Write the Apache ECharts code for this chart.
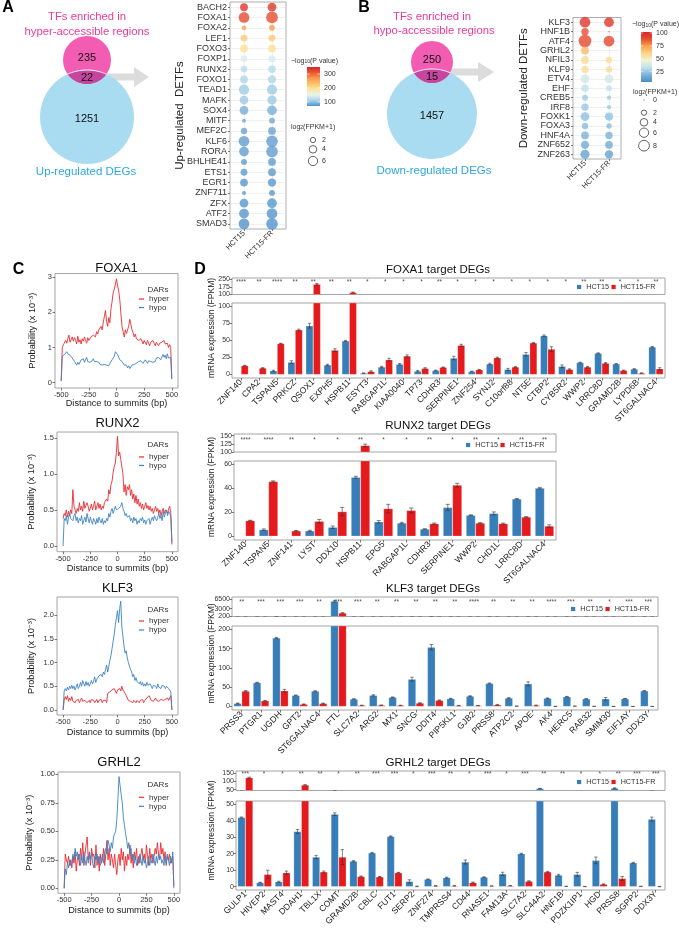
<!DOCTYPE html>
<html><head><meta charset="utf-8">
<script src="https://cdn.jsdelivr.net/npm/echarts@6/dist/echarts.min.js"></script>
<style>html,body{margin:0;padding:0;background:#fff}#c{width:679px;height:928px}</style>
</head><body><div id="c"></div>
<script>
// ===================== DATA =====================
const cellLines = ['HCT15', 'HCT15-FR'];

// Panel A / B venn counts: [TF only, overlap, DEG only]
const vennUpCounts = [235, 22, 1251];
const vennDownCounts = [250, 15, 1457];

// Panel A dot plot
const upTFs = ['BACH2','FOXA1','FOXA2','LEF1','FOXO3','FOXP1','RUNX2','FOXO1','TEAD1','MAFK','SOX4','MITF','MEF2C','KLF6','RORA','BHLHE41','ETS1','EGR1','ZNF711','ZFX','ATF2','SMAD3'];
const upPval = [335,318,262,222,195,140,120,114,106,104,88,84,82,78,78,77,76,75,75,74,73,72];
const upLogFpkmHCT15 = [4.2,8.0,1.6,3.2,4.2,3.2,3.2,4.2,7.2,5.3,5.3,1.1,2.8,8.0,6.6,2.4,3.2,4.2,1.1,5.3,6.6,8.0];
const upLogFpkmFR =    [5.3,9.5,2.4,3.2,4.2,3.2,4.2,4.8,7.2,5.9,6.6,2.4,4.2,9.5,9.5,4.2,4.2,4.8,2.4,6.6,8.0,9.5];
const upPvalTicks = [100, 200, 300];
const upSizeTicks = [2, 4, 6];

// Panel B dot plot
const downTFs = ['KLF3','HNF1B','ATF4','GRHL2','NFIL3','KLF9','ETV4','EHF','CREB5','IRF8','FOXK1','FOXA3','HNF4A','ZNF652','ZNF263'];
const downPval = [96,88,90,68,58,57,38,33,26,25,23,22,19,16,13];
const downLogFpkmHCT15 = [8.0,3.7,11.1,4.2,4.2,3.7,5.3,3.7,2.4,3.7,5.3,2.8,4.2,4.75,5.9];
const downLogFpkmFR =    [6.6,0.15,8.0,0,2.8,2.8,5.3,2.4,1.3,1.3,4.75,2.0,3.7,4.2,4.75];
const downPvalTicks = [25, 50, 75, 100];
const downSizeTicks = [0, 2, 4, 6, 8];

// Panel C: distance to summits (bp) and probabilities (x 1e-3)
const summitDistance = [-500,-490,-480,-470,-460,-450,-440,-430,-420,-410,-400,-390,-380,-370,-360,-350,-340,-330,-320,-310,-300,-290,-280,-270,-260,-250,-240,-230,-220,-210,-200,-190,-180,-170,-160,-150,-140,-130,-120,-110,-100,-90,-80,-70,-60,-50,-40,-30,-20,-10,0,10,20,30,40,50,60,70,80,90,100,110,120,130,140,150,160,170,180,190,200,210,220,230,240,250,260,270,280,290,300,310,320,330,340,350,360,370,380,390,400,410,420,430,440,450,460,470,480,490,500];
const summitTicks = [-500, -250, 0, 250, 500];

const foxa1Hyper = [0.05,1.00,1.08,1.05,1.20,1.12,1.25,1.35,1.15,1.22, 1.30,1.18,1.28,1.20,1.10,1.32,1.15,1.22,1.10,1.25, 1.18,1.30,1.22,1.12,1.28,1.20,1.15,1.30,1.25,1.35, 1.40,1.30,1.45,1.38,1.50,1.45,1.60,1.50,1.70,1.65, 2.05,1.75,1.60,1.85,1.70,2.10,2.30,2.55,2.65,2.70, 2.95,2.75,2.60,2.35,1.95,1.60,1.45,1.30,1.50,1.40, 1.35,1.60,1.80,1.65,1.50,1.42,1.30,1.38,1.25,1.30, 1.20,1.15,1.25,1.18,1.10,1.20,1.15,1.08,1.20,1.12, 1.05,1.15,1.10,1.20,1.12,1.05,1.15,1.10,1.05,1.12, 1.08,1.15,1.10,1.20,1.10,1.05,1.12,1.00,1.08,1.00, 0.12];
const foxa1Hypo = [0.05,0.75,0.72,0.80,0.75,0.88,0.82,0.85,0.78,0.80, 0.70,0.72,0.60,0.55,0.50,0.58,0.52,0.55,0.65,0.60, 0.68,0.58,0.62,0.72,0.60,0.65,0.58,0.55,0.62,0.68, 0.60,0.56,0.60,0.55,0.58,0.52,0.55,0.50,0.53,0.52, 0.55,0.50,0.52,0.48,0.55,0.60,0.65,0.70,0.75,0.88, 0.92,0.80,0.72,0.65,0.62,0.60,0.55,0.50,0.45,0.50, 0.42,0.48,0.40,0.45,0.50,0.45,0.52,0.50,0.55,0.50, 0.60,0.55,0.62,0.58,0.55,0.60,0.65,0.60,0.55,0.62, 0.58,0.60,0.62,0.58,0.55,0.60,0.70,0.65,0.72,0.68, 0.65,0.70,0.80,0.72,0.78,0.68,0.82,0.70,0.75,0.72, 0.10];
const runx2Hyper = [0.38,0.45,0.42,0.50,0.40,0.48,0.42,0.50,0.45,0.78, 0.55,0.50,0.45,0.52,0.48,0.60,0.50,0.55,0.48,0.62, 0.52,0.50,0.60,0.55,0.48,0.52,0.58,0.50,0.55,0.62, 0.50,0.55,0.60,0.52,0.58,0.50,0.55,0.52,0.60,0.58, 0.65,0.62,0.78,0.72,0.85,0.90,1.02,1.10,1.15,1.30, 1.52,1.25,1.30,1.20,1.10,1.00,0.75,0.85,0.70,0.82, 0.78,0.85,0.70,0.78,0.65,0.72,0.60,0.70,0.58,0.65, 0.55,0.60,0.52,0.58,0.50,0.55,0.60,0.52,0.56,0.50, 0.55,0.48,0.52,0.45,0.50,0.55,0.48,0.52,0.45,0.50, 0.42,0.48,0.52,0.45,0.50,0.48,0.45,0.52,0.55,0.45, 0.02];
const runx2Hypo = [0.00,0.38,0.35,0.42,0.30,0.40,0.45,0.38,0.40,0.35, 0.42,0.45,0.35,0.40,0.32,0.38,0.35,0.42,0.30,0.35, 0.40,0.33,0.45,0.38,0.32,0.40,0.35,0.30,0.38,0.35, 0.30,0.38,0.32,0.40,0.35,0.32,0.38,0.30,0.35,0.32, 0.38,0.35,0.45,0.40,0.48,0.52,0.45,0.50,0.55,0.50, 0.48,0.52,0.50,0.55,0.60,0.52,0.48,0.42,0.45,0.40, 0.38,0.42,0.35,0.38,0.32,0.40,0.35,0.38,0.30,0.35, 0.32,0.38,0.35,0.40,0.32,0.36,0.30,0.35,0.33,0.38, 0.30,0.36,0.40,0.35,0.42,0.38,0.35,0.40,0.45,0.38, 0.42,0.35,0.48,0.40,0.45,0.50,0.42,0.48,0.45,0.40, 0.05];
const klf3Hyper = [0.00,0.20,0.28,0.22,0.30,0.18,0.25,0.20,0.28,0.18, 0.22,0.15,0.20,0.18,0.22,0.15,0.20,0.25,0.18,0.15, 0.20,0.22,0.15,0.18,0.20,0.15,0.22,0.18,0.20,0.15, 0.18,0.22,0.15,0.20,0.18,0.22,0.15,0.20,0.18,0.20, 0.15,0.35,0.32,0.38,0.35,0.42,0.38,0.45,0.40,0.35, 0.42,0.38,0.45,0.40,0.50,0.42,0.45,0.35,0.30,0.25, 0.20,0.22,0.18,0.20,0.15,0.20,0.18,0.15,0.20,0.18, 0.15,0.20,0.18,0.22,0.15,0.20,0.18,0.25,0.22,0.30, 0.25,0.20,0.22,0.18,0.20,0.25,0.20,0.22,0.18,0.20, 0.22,0.25,0.20,0.18,0.22,0.20,0.25,0.20,0.22,0.30, 0.00];
const klf3Hypo = [0.00,0.40,0.45,0.40,0.48,0.42,0.50,0.45,0.52,0.45, 0.50,0.42,0.48,0.55,0.45,0.50,0.58,0.50,0.62,0.55, 0.50,0.60,0.52,0.58,0.50,0.55,0.62,0.55,0.60,0.70, 0.58,0.65,0.62,0.72,0.68,0.75,0.70,0.80,0.75,0.85, 0.95,0.80,0.92,1.05,1.15,1.30,1.45,1.60,1.80,1.95, 2.10,1.85,2.15,2.30,1.75,1.55,1.35,1.20,1.25,1.10, 1.00,0.92,0.85,0.80,0.70,0.75,0.62,0.68,0.60,0.62, 0.55,0.60,0.52,0.58,0.50,0.55,0.50,0.58,0.52,0.48, 0.55,0.50,0.45,0.52,0.48,0.50,0.45,0.55,0.48,0.50, 0.45,0.52,0.48,0.50,0.45,0.50,0.48,0.45,0.42,0.38, 0.00];
const grhl2Hyper = [0.00,0.30,0.25,0.22,0.28,0.20,0.25,0.18,0.28,0.22, 0.32,0.15,0.25,0.30,0.20,0.35,0.25,0.40,0.20,0.30, 0.38,0.45,0.25,0.32,0.20,0.35,0.28,0.30,0.18,0.38, 0.20,0.28,0.15,0.30,0.22,0.25,0.35,0.20,0.30,0.42, 0.25,0.35,0.20,0.30,0.25,0.18,0.30,0.20,0.12,0.25, 0.30,0.20,0.35,0.25,0.32,0.15,0.28,0.20,0.30,0.25, 0.38,0.22,0.30,0.18,0.32,0.25,0.35,0.20,0.28,0.22, 0.30,0.35,0.25,0.30,0.22,0.38,0.28,0.20,0.35,0.25, 0.30,0.22,0.28,0.35,0.30,0.40,0.30,0.25,0.40,0.30, 0.35,0.25,0.32,0.20,0.28,0.25,0.30,0.22,0.25,0.28, 0.02];
const grhl2Hypo = [0.00,0.17,0.12,0.22,0.18,0.25,0.20,0.22,0.30,0.25, 0.35,0.28,0.32,0.25,0.30,0.20,0.28,0.22,0.32,0.25, 0.20,0.28,0.22,0.30,0.25,0.32,0.22,0.18,0.28,0.25, 0.30,0.22,0.28,0.20,0.25,0.30,0.22,0.32,0.35,0.30, 0.42,0.38,0.32,0.40,0.35,0.45,0.48,0.50,0.60,0.78, 0.98,0.90,0.82,0.75,0.62,0.55,0.48,0.42,0.35,0.40, 0.30,0.35,0.25,0.30,0.22,0.28,0.20,0.25,0.22,0.30, 0.25,0.20,0.28,0.22,0.25,0.18,0.22,0.28,0.20,0.25, 0.22,0.30,0.25,0.20,0.28,0.22,0.30,0.25,0.28,0.22, 0.25,0.20,0.28,0.22,0.30,0.25,0.20,0.28,0.22,0.32, 0.00];
const foxa1ProbTicks = [0, 1, 2, 3];
const runx2ProbTicks = [0, 0.5, 1.0, 1.5];
const klf3ProbTicks = [0, 0.5, 1.0, 1.5, 2.0];
const grhl2ProbTicks = [0, 0.25, 0.5, 0.75, 1.0];

// Panel D: FPKM bars
const foxa1Genes = ['ZNF140','CPA2','TSPAN5','PRKCZ','QSOX1','EXPH5','HSPB11','ESYT3','RABGAP1L','KIAA0040','TP73','CDHR3','SERPINE1','ZNF254','SYNJ2','C10orf88','NT5E','CTBP2','CYB5R2','WWP2','LRRC8D','GRAMD2B','LYPD6B','ST6GALNAC4'];
const foxa1HCT15 = [0.2,0.1,5.5,18,71,14,49,2,11,15,5,6,24,4.5,15.5,7.5,29.5,56.5,12,17.5,31,15.5,8,40];
const foxa1FR = [13,9.5,45,65,200,35.5,120,4.5,21.5,27,9,10.5,42.5,7,24.5,11,46,37,7.5,11,16.5,6,2,8.5];
const foxa1HCT15Err = [0,0,0.8,2,3.5,1,0.8,0.3,1,1,1,0.5,2.5,0.5,1,1.5,2.5,1,2,0.5,0.5,0.5,0.5,0.8];
const foxa1FRErr = [0.5,0.5,0.5,1,8,2,4,1,2,1.5,1,0.5,1.5,0.5,0.8,0.8,0.8,3.5,0.8,0.8,0.8,0.5,0.5,1.5];
const foxa1Stars = ['****','**','****','**','**','**','**','*','*','*','*','**','*','*','*','*','*','*','*','**','**','*','*','**'];
const foxa1StripTicks = [100, 175, 250];
const foxa1MainTicks = [0, 25, 50, 75, 100];

const runx2Genes = ['ZNF140','TSPAN5','ZNF141','LYST','DDX10','HSPB11','EPG5','RABGAP1L','CDHR3','SERPINE1','WWP2','CHD1L','LRRC8D','ST6GALNAC4'];
const runx2HCT15 = [0.2,5.5,0.2,4.5,7.5,49,12,11,6,24,17.5,19,31,40];
const runx2FR = [13,45.5,4.5,12.5,20.5,120,23,21.5,10.5,42.5,11,10.5,16,8.5];
const runx2HCT15Err = [0,0.6,0,0.5,1,0.8,1,0.6,0.3,2.5,0.3,1.2,0.3,0.6];
const runx2FRErr = [0.3,0.5,0.3,1.5,3.5,4,3.5,2,0.5,1.5,0.3,0.5,0.3,1];
const runx2Stars = ['****','****','**','*','*','**','*','*','**','*','**','*','**','**'];
const runx2StripTicks = [100, 125, 150];
const runx2MainTicks = [0, 20, 40, 60];

const klf3Genes = ['PRSS3','PTGR1','UGDH','GPT2','ST6GALNAC4','FTL','SLC7A2','ARG2','MX1','SNCG','DDIT4','PIP5KL1','GJB2','PRSS8','ATP2C2','APOE','AK4','HERC5','RAB32','SMIM30','EIF1AY','DDX3Y'];
const klf3HCT15 = [8,62,178,29,40,5700,19.5,29,24,71,154,20.5,27,60,22,59,21.5,25.5,20,20,20.5,40.5];
const klf3FR = [40,15,41,6,8,1450,3,3.5,3,9,16,2.5,2.5,4.5,1,3,0.5,1,0.5,0.3,0.2,0.3];
const klf3HCT15Err = [1,1,1.5,0.8,0.8,300,0.8,1.5,0.8,5,7,0.8,0.8,1,0.8,5,0.5,0.8,0.5,3.5,0.5,1];
const klf3FRErr = [1.5,1,3.5,0.8,1,100,0.5,0.5,0.5,1,1,0.5,0.5,1,0.3,0.8,0.2,0.3,0.2,0.2,0.2,0.2];
const klf3Stars = ['**','***','***','***','**','***','***','**','**','**','**','**','****','**','**','**','****','***','**','*','***','***'];
const klf3StripTicks = [200, 3000, 6500];
const klf3MainTicks = [0, 50, 100, 150, 200];

const grhl2Genes = ['GULP1','HIVEP2','MAST4','DDAH1','TBL1X','COMT','GRAMD2B','CBLC','FUT1','SERP2','ZNF274','TMPRSS4','CD44','RNASE1','FAM13A','SLC7A2','SLC44A2','HNF1B','PDZK1IP1','HGD','PRSS8','SGPP2','DDX3Y'];
const grhl2HCT15 = [42,2.5,3,33.5,18,44,15.5,20.5,30.5,3.2,4.5,5.5,15,5.8,7.8,20,57,7,7.5,16,59,14.5,41];
const grhl2FR = [122,7.5,8.5,78,9,18,6.2,6,8.5,0.2,0.5,0.5,2.5,0.4,0.6,3.3,9,0.2,0.1,1.5,5,0.2,0.1];
const grhl2HCT15Err = [0.3,0.2,0.3,1.2,1,0.8,0.3,0.3,0.3,1,0.2,0.3,1.2,0.2,1,0.3,1,0.5,1.2,2,1.5,0.3,1.2];
const grhl2FRErr = [3,2.5,1,2,0.5,4.5,0.3,0.2,0.2,0.2,0.2,0.2,0.3,0.1,0.1,0.3,0.3,0.1,0.1,0.2,1.2,0.1,0.1];
const grhl2Stars = ['***','*','*','**','**','*','**','***','***','*','***','**','*','***','*','***','**','**','*','*','**','***','***'];
const grhl2StripTicks = [50, 100, 150];
const grhl2MainTicks = [0, 10, 20, 30, 40, 50];

// ===================== STYLE / LAYOUT =====================
const FONT = '"Liberation Sans", Arial, Helvetica, sans-serif';
const TXT = '#333333';
const HCT_BLUE = '#377eb8', FR_RED = '#e41a1c';
const HYPER_RED = '#eb2a2f', HYPO_BLUE = '#3c82c3';
const BORDER = '#9a9a9a';
const SIZE_K = 3.8;
const BAR_GAP = 0.18;
const upStops = ['#4f91c8','#a9d3e8','#e8f3ee','#fde3a0','#fdc268','#f8984d','#ea5532','#d7262a'];
const downStops = ['#4a8cc6','#7bb3da','#c0e0ee','#f3f2d8','#fdd585','#f9a452','#e84e30','#d7262a'];

const grid = [], xAxis = [], yAxis = [], series = [], legend = [], graphic = [], visualMap = [];
const noLine = {show:false, onZero:false};

function T(x, y, text, o) {
  o = o || {};
  const al = o.align || 'center', va = o.va || 'middle';
  return {type:'text', x:x, y:y, rotation:o.rot || 0, silent:true, z:o.z || 10,
    style:Object.assign({text:text, fontSize:o.size || 9, fontFamily:FONT, fontWeight:o.weight || 'normal',
      fill:o.color || TXT, align:al, verticalAlign:va, textAlign:al, textVerticalAlign:va}, o.style || {})};
}
function addGrid(g) {
  grid.push(Object.assign({show:true, borderColor:BORDER, borderWidth:0.9, backgroundColor:'transparent', containLabel:false, outerBoundsMode:'none'}, g));
  return grid.length - 1;
}
const tickStyle = {color:'#444', width:0.7};

// ---------- Venn ----------
function arcPts(cx, cy, r, a0, a1, n) {
  const pts = [];
  for (let k = 0; k <= n; k++) {
    const t = a0 + (a1 - a0) * k / n;
    pts.push([cx + r * Math.cos(t), cy + r * Math.sin(t)]);
  }
  return pts;
}
function addVenn(V, counts, line1, line2, bottomLabel) {
  graphic.push({type:'polygon', silent:true, z:1, shape:{points:[[V.ax0,V.ay-3.5],[V.ax1,V.ay-3.5],[V.ax1,V.ay-10],[V.ax2,V.ay],[V.ax1,V.ay+10],[V.ax1,V.ay+3.5],[V.ax0,V.ay+3.5]]}, style:{fill:'#dcdcdc'}});
  graphic.push({type:'circle', silent:true, z:2, shape:{cx:V.cx, cy:V.by, r:V.br}, style:{fill:'#a9dcf0'}});
  graphic.push({type:'circle', silent:true, z:3, shape:{cx:V.cx, cy:V.py, r:V.pr}, style:{fill:'#f25db3'}});
  const d = V.by - V.py;
  const a = (d*d + V.pr*V.pr - V.br*V.br) / (2*d);
  const h = Math.sqrt(V.pr*V.pr - a*a);
  const alpha = Math.atan2(a, h);
  const beta = Math.atan2(d - a, h);
  const pinkArc = arcPts(V.cx, V.py, V.pr, Math.PI - alpha, alpha, 40);
  const blueArc = arcPts(V.cx, V.by, V.br, -beta, -Math.PI + beta, 40);
  graphic.push({type:'polygon', silent:true, z:4, shape:{points:pinkArc.concat(blueArc)}, style:{fill:'#c6459e'}});
  graphic.push({type:'polyline', silent:true, z:5, shape:{points:blueArc}, style:{stroke:'#ffffff', lineWidth:1, fill:null}});
  graphic.push(T(V.cx, V.py - 2, String(counts[0]), {size:11, color:'#111'}));
  graphic.push(T(V.cx, (V.by - V.br + V.py + V.pr)/2 + 1, String(counts[1]), {size:11, color:'#111'}));
  graphic.push(T(V.cx, V.by + 2, String(counts[2]), {size:11, color:'#111'}));
  graphic.push(T(V.tx, V.t1y, line1, {size:11.3, color:'#ec3b97'}));
  graphic.push(T(V.tx2, V.t2y, line2, {size:11.3, color:'#ec3b97'}));
  graphic.push(T(V.bx, V.bly, bottomLabel, {size:11.5, color:'#2ca8e0'}));
}

// ---------- dot plot ----------
function addDotPlot(L, tfs, pval, s1, s2, yName, stops, vmin, vmax) {
  const gi = addGrid({left:L.left, top:L.top, width:L.width, height:L.height, borderWidth:0.8});
  const xi = xAxis.length;
  xAxis.push({gridIndex:gi, type:'category', data:cellLines,
    axisLine:noLine, axisTick:{show:true, alignWithLabel:true, length:2, lineStyle:tickStyle},
    axisLabel:{rotate:45, fontSize:7.5, color:TXT, fontFamily:FONT, margin:3, interval:0}, splitLine:{show:false}});
  const yi = yAxis.length;
  yAxis.push({gridIndex:gi, type:'category', data:tfs, inverse:true,
    axisLine:noLine, axisTick:{show:true, alignWithLabel:true, length:2, lineStyle:tickStyle},
    axisLabel:{fontSize:9, color:TXT, fontFamily:FONT, margin:3, interval:0}, splitLine:{show:false},
    name:yName, nameLocation:'middle', nameRotate:90, nameGap:L.nameGap, nameMoveOverlap:false,
    nameTextStyle:{fontSize:11.5, color:'#222', fontFamily:FONT}});
  series.push({type:'scatter', xAxisIndex:xi, yAxisIndex:yi, data:[], z:0, zlevel:0, silent:true,
    markLine:{silent:true, z:0, symbol:['none','none'], label:{show:false}, animation:false,
      lineStyle:{color:'#e6e6e6', width:0.6, type:'solid'}, emphasis:{disabled:true},
      data: tfs.map(t => ({yAxis:t})).concat(cellLines.map(c => ({xAxis:c})))}});
  const data = [];
  tfs.forEach((t, i) => { data.push([0, i, pval[i], s1[i]]); data.push([1, i, pval[i], s2[i]]); });
  const si = series.length;
  series.push({type:'scatter', xAxisIndex:xi, yAxisIndex:yi, data:data, z:6, silent:true,
    symbolSize: v => SIZE_K * Math.sqrt(Math.max(v[3], 0))});
  visualMap.push({type:'continuous', show:false, seriesIndex:si, dimension:2, min:vmin, max:vmax, inRange:{color:stops}});
}

function addDotLegend(L, stops, vmin, vmax, ticks, sizeTicks) {
  const rs = {a:{fontSize:7, fontFamily:FONT, fill:TXT}, s:{fontSize:5, fontFamily:FONT, fill:TXT, verticalAlign:'bottom'}};
  graphic.push(T(L.titleX, L.titleY, '{a|\u2212log}{s|10}{a|(P value)}', {align:'left', style:{rich:rs}}));
  const n = stops.length;
  const cs = stops.map((c, i) => ({offset:1 - i/(n-1), color:c})).reverse();
  graphic.push({type:'rect', silent:true, shape:{x:L.barX, y:L.barY, width:L.barW, height:L.barH},
    style:{fill:new echarts.graphic.LinearGradient(0, 0, 0, 1, cs)}});
  ticks.forEach(v => {
    const y = L.barY + (vmax - v) / (vmax - vmin) * L.barH;
    graphic.push({type:'line', silent:true, z:11, shape:{x1:L.barX, y1:y, x2:L.barX + L.barW*0.2, y2:y}, style:{stroke:'#fff', lineWidth:0.6}});
    graphic.push({type:'line', silent:true, z:11, shape:{x1:L.barX + L.barW*0.8, y1:y, x2:L.barX + L.barW, y2:y}, style:{stroke:'#fff', lineWidth:0.6}});
    graphic.push(T(L.barX + L.barW + 4, y, String(v), {size:7, align:'left'}));
  });
  graphic.push(T(L.sizeTitleX, L.sizeTitleY, '{a|log}{s|2}{a|(FPKM+1)}', {align:'left', style:{rich:rs}}));
  sizeTicks.forEach((v, i) => {
    const y = L.sizeY[i];
    const dd = SIZE_K * Math.sqrt(v);
    if (v === 0) graphic.push({type:'circle', silent:true, shape:{cx:L.sizeX, cy:y, r:0.5}, style:{fill:'#333'}});
    else graphic.push({type:'circle', silent:true, shape:{cx:L.sizeX, cy:y, r:dd/2}, style:{fill:null, stroke:'#222', lineWidth:0.7}});
    graphic.push(T(L.sizeX + 9, y, String(v), {size:7, align:'left'}));
  });
}

// ---------- line panel (C) ----------
function addLinePanel(C, hyper, hypo, ticks, dec, title) {
  const gi = addGrid({left:C.left, top:C.top, width:C.width, height:C.height});
  const xi = xAxis.length;
  xAxis.push({gridIndex:gi, type:'value', min:-556, max:556, axisLine:noLine, splitLine:{show:false},
    axisTick:{show:true, customValues:summitTicks, length:2.5, lineStyle:tickStyle},
    axisLabel:{customValues:summitTicks, fontSize:7.5, color:TXT, fontFamily:FONT, margin:3},
    name:'Distance to summits (bp)', nameLocation:'middle', nameGap:C.xGap, nameMoveOverlap:false,
    nameTextStyle:{fontSize:9.2, color:'#222', fontFamily:FONT}});
  const yi = yAxis.length;
  yAxis.push({gridIndex:gi, type:'value', min:C.ymin, max:C.ymax, axisLine:noLine, splitLine:{show:false},
    axisTick:{show:true, customValues:ticks, length:2.5, lineStyle:tickStyle},
    axisLabel:{customValues:ticks, fontSize:7.5, color:TXT, fontFamily:FONT, margin:3, formatter:v => Number(v).toFixed(dec)},
    name:'{a|Probability (x 10}{s|\u22123}{a|)}', nameLocation:'middle', nameRotate:90, nameGap:C.yGap, nameMoveOverlap:false,
    nameTextStyle:{rich:{a:{fontSize:9.2, color:'#222', fontFamily:FONT}, s:{fontSize:6.2, color:'#222', fontFamily:FONT, verticalAlign:'top'}}}});
  const mk = vals => summitDistance.map((x, i) => [x, vals[i]]);
  series.push({type:'line', name:'hyper', xAxisIndex:xi, yAxisIndex:yi, data:mk(hyper), showSymbol:false, symbol:'none', silent:true,
    lineStyle:{color:HYPER_RED, width:0.9}, itemStyle:{color:HYPER_RED}, z:2});
  series.push({type:'line', name:'hypo', xAxisIndex:xi, yAxisIndex:yi, data:mk(hypo), showSymbol:false, symbol:'none', silent:true,
    lineStyle:{color:HYPO_BLUE, width:0.9}, itemStyle:{color:HYPO_BLUE}, z:3});
  graphic.push(T(C.left + C.width/2, C.titleY, title, {size:13, color:'#111'}));
  graphic.push(T(C.legX + 8.5, C.darsY, 'DARs', {size:8, align:'left'}));
  legend.push({orient:'vertical', left:C.legX, top:C.legTop, padding:0, itemGap:0, itemWidth:5, itemHeight:1.2, icon:'rect',
    selectedMode:false, data:['hyper','hypo'], textStyle:{fontSize:8, lineHeight:C.legRow, color:TXT, fontFamily:FONT}});
}

// ---------- bar panel (D) ----------
function addBarPanel(P, genes, hct, fr, hctErr, frErr, stars, stripTicks, mainTicks, title) {
  const gS = addGrid({left:P.left, top:P.stripTop, width:P.width, height:P.stripH});
  const gM = addGrid({left:P.left, top:P.mainTop, width:P.width, height:P.mainH});
  const xS = xAxis.length;
  xAxis.push({gridIndex:gS, type:'category', data:genes, axisLine:noLine, axisTick:{show:false}, axisLabel:{show:false}, splitLine:{show:false}});
  const xM = xAxis.length;
  xAxis.push({gridIndex:gM, type:'category', data:genes, axisLine:noLine, splitLine:{show:false},
    axisTick:{show:true, alignWithLabel:true, length:2.5, lineStyle:tickStyle},
    axisLabel:{rotate:45, fontSize:8.6, color:'#222', fontFamily:FONT, margin:3, interval:0}});
  const yS = yAxis.length;
  yAxis.push({gridIndex:gS, type:'value', min:P.stripMin, max:P.stripMax, axisLine:noLine, splitLine:{show:false},
    axisTick:{show:true, customValues:stripTicks, length:2.5, lineStyle:tickStyle},
    axisLabel:{customValues:stripTicks, fontSize:7, color:TXT, fontFamily:FONT, margin:2, formatter:v => String(v)}});
  const yM = yAxis.length;
  yAxis.push({gridIndex:gM, type:'value', min:P.mainMin, max:P.mainMax, axisLine:noLine, splitLine:{show:false},
    axisTick:{show:true, customValues:mainTicks, length:2.5, lineStyle:tickStyle},
    axisLabel:{customValues:mainTicks, fontSize:7, color:TXT, fontFamily:FONT, margin:2, formatter:v => String(v)}});
  const errData = genes.map((g, i) => [i, hct[i], hctErr[i], -1]).concat(genes.map((g, i) => [i, fr[i], frErr[i], 1]));
  [[xS, yS], [xM, yM]].forEach(ax => {
    series.push({type:'bar', name:'HCT15', xAxisIndex:ax[0], yAxisIndex:ax[1], data:hct, barGap:'0%', barCategoryGap:(BAR_GAP*100)+'%',
      itemStyle:{color:HCT_BLUE, borderColor:'rgba(255,255,255,0.45)', borderWidth:0.5}, clip:true, silent:true, z:2});
    series.push({type:'bar', name:'HCT15-FR', xAxisIndex:ax[0], yAxisIndex:ax[1], data:fr, barGap:'0%', barCategoryGap:(BAR_GAP*100)+'%',
      itemStyle:{color:FR_RED, borderColor:'rgba(255,255,255,0.45)', borderWidth:0.5}, clip:true, silent:true, z:2});
    series.push({type:'custom', xAxisIndex:ax[0], yAxisIndex:ax[1], data:errData, clip:true, silent:true, z:3,
      renderItem:(params, api) => {
        const i = api.value(0), v = api.value(1), e = api.value(2), side = api.value(3);
        if (!(e > 0)) return null;
        const band = api.size([1, 0])[0];
        const bw = band * (1 - BAR_GAP) / 2;
        const x = api.coord([i, v])[0] + side * bw / 2;
        const y1 = api.coord([i, v + e])[1], y2 = api.coord([i, Math.max(v - e, 0)])[1];
        const cap = bw * 0.22;
        const st = {stroke:'#333', lineWidth:0.6};
        return {type:'group', children:[
          {type:'line', shape:{x1:x, y1:y1, x2:x, y2:y2}, style:st},
          {type:'line', shape:{x1:x-cap, y1:y1, x2:x+cap, y2:y1}, style:st},
          {type:'line', shape:{x1:x-cap, y1:y2, x2:x+cap, y2:y2}, style:st}]};
      }});
  });
  const starVal = P.stripMax - (P.starOff + 1.4) / P.stripH * (P.stripMax - P.stripMin);
  series.push({type:'scatter', xAxisIndex:xS, yAxisIndex:yS, silent:true, z:5, symbolSize:1, itemStyle:{color:'rgba(0,0,0,0)'},
    data: genes.map((g, i) => [i, starVal]),
    label:{show:true, position:'inside', formatter:p => stars[p.dataIndex], fontSize:6.5, color:'#222', fontFamily:FONT}});
  legend.push({orient:'horizontal', left:P.legX, top:P.legY - 4, padding:0, itemGap:2.5, itemWidth:4.2, itemHeight:4.2, icon:'rect',
    selectedMode:false, data:['HCT15','HCT15-FR'], itemStyle:{borderWidth:0},
    textStyle:{fontSize:7.2, lineHeight:8, color:TXT, fontFamily:FONT}});
  graphic.push(T(P.titleX, P.titleY, title, {size:11.5, color:'#111'}));
  graphic.push(T(212, (P.stripTop + P.mainTop + P.mainH) / 2, 'mRNA expression (FPKM)', {size:8.5, color:'#222', rot:Math.PI/2}));
}

// ===================== BUILD =====================
addVenn({cx:87, py:60, pr:24, by:117, br:47, ax0:106, ax1:134, ax2:149, ay:77, tx:87, t1y:17, tx2:87, t2y:31.5, bx:86, bly:171.5},
  vennUpCounts, 'TFs enriched in', 'hyper-accessible regions', 'Up-regulated DEGs');
addVenn({cx:432, py:62, pr:21, by:114, br:45, ax0:448, ax1:478, ax2:494, ay:72, tx:432, t1y:16.7, tx2:434, t2y:31, bx:434, bly:171},
  vennDownCounts, 'TFs enriched in', 'hypo-accessible regions', 'Down-regulated DEGs');

addDotPlot({left:230, top:2, width:56, height:227, nameGap:44}, upTFs, upPval, upLogFpkmHCT15, upLogFpkmFR, 'Up-regulated  DETFs', upStops, 70, 350);
addDotPlot({left:573, top:17.5, width:48, height:141.5, nameGap:43}, downTFs, downPval, downLogFpkmHCT15, downLogFpkmFR, 'Down-regulated DETFs', downStops, 5, 102);
addDotLegend({titleX:291, titleY:61, barX:307, barY:67, barW:13, barH:39, sizeTitleX:291, sizeTitleY:127, sizeX:313, sizeY:[140,149.3,161]},
  upStops, 70, 350, upPvalTicks, upSizeTicks);
addDotLegend({titleX:632, titleY:24.5, barX:641, barY:32, barW:11, barH:50, sizeTitleX:633, sizeTitleY:92, sizeX:644, sizeY:[100,112.7,122.3,132.7,145.7]},
  downStops, 5, 102, downPvalTicks, downSizeTicks);

addLinePanel({left:55, top:273.5, width:123, height:114.5, ymin:-0.15, ymax:3.1, xGap:11, yGap:18, titleY:268, legX:139, darsY:289.5, legTop:294.8, legRow:8.5},
  foxa1Hyper, foxa1Hypo, foxa1ProbTicks, 0, 'FOXA1');
addLinePanel({left:57, top:432, width:121, height:119.7, ymin:-0.08, ymax:1.58, xGap:12.5, yGap:21, titleY:423, legX:139, darsY:445, legTop:452.7, legRow:8.5},
  runx2Hyper, runx2Hypo, runx2ProbTicks, 1, 'RUNX2');
addLinePanel({left:57, top:597, width:121, height:118, ymin:-0.11, ymax:2.39, xGap:13, yGap:21, titleY:588, legX:139, darsY:610, legTop:616.5, legRow:9},
  klf3Hyper, klf3Hypo, klf3ProbTicks, 1, 'KLF3');
addLinePanel({left:58, top:772, width:122, height:121.3, ymin:-0.044, ymax:1.02, xGap:13, yGap:24, titleY:762.5, legX:139, darsY:785, legTop:792.8, legRow:9},
  grhl2Hyper, grhl2Hypo, grhl2ProbTicks, 2, 'GRHL2');

addBarPanel({left:232, width:433, stripTop:278, stripH:16.5, stripMin:100, stripMax:260, mainTop:303, mainH:75, mainMin:-5, mainMax:104,
  starOff:3, legX:577, legY:287, titleX:438, titleY:269.5}, foxa1Genes, foxa1HCT15, foxa1FR, foxa1HCT15Err, foxa1FRErr, foxa1Stars, foxa1StripTicks, foxa1MainTicks, 'FOXA1 target DEGs');
addBarPanel({left:234, width:322, stripTop:434, stripH:18, stripMin:100, stripMax:155, mainTop:461, mainH:79, mainMin:-3.1, mainMax:62.5,
  starOff:5, legX:466, legY:445, titleX:438, titleY:425.7}, runx2Genes, runx2HCT15, runx2FR, runx2HCT15Err, runx2FRErr, runx2Stars, runx2StripTicks, runx2MainTicks, 'RUNX2 target DEGs');
addBarPanel({left:232, width:426, stripTop:597, stripH:19.5, stripMin:200, stripMax:7200, mainTop:626, mainH:84, mainMin:-9, mainMax:209,
  starOff:3.7, legX:571, legY:609, titleX:433, titleY:588.5}, klf3Genes, klf3HCT15, klf3FR, klf3HCT15Err, klf3FRErr, klf3Stars, klf3StripTicks, klf3MainTicks, 'KLF3 target DEGs');
addBarPanel({left:236, width:429, stripTop:771, stripH:19.5, stripMin:45, stripMax:162, mainTop:801, mainH:89, mainMin:-2, mainMax:52,
  starOff:1.7, legX:577, legY:782, titleX:438, titleY:763}, grhl2Genes, grhl2HCT15, grhl2FR, grhl2HCT15Err, grhl2FRErr, grhl2Stars, grhl2StripTicks, grhl2MainTicks, 'GRHL2 target DEGs');

// panel letters
graphic.push(T(8, 8, 'A', {size:16, weight:'bold', color:'#000'}));
graphic.push(T(364, 8, 'B', {size:16, weight:'bold', color:'#000'}));
graphic.push(T(18.5, 270, 'C', {size:16, weight:'bold', color:'#000'}));
graphic.push(T(200, 270, 'D', {size:16, weight:'bold', color:'#000'}));

const chart = echarts.init(document.getElementById('c'), null, {renderer:'canvas'});
chart.setOption({
  animation:false,
  backgroundColor:'#ffffff',
  textStyle:{fontFamily:FONT},
  grid:grid, xAxis:xAxis, yAxis:yAxis, series:series, legend:legend, visualMap:visualMap,
  graphic:{elements:graphic}
});
</script></body></html>
